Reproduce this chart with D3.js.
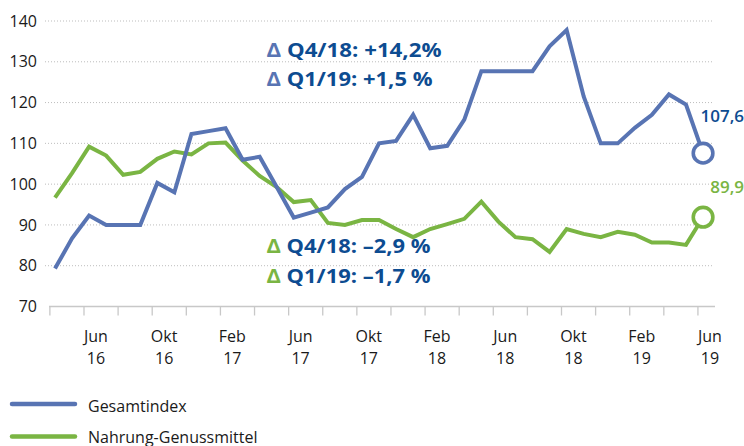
<!DOCTYPE html>
<html><head><meta charset="utf-8">
<script src="https://cdn.jsdelivr.net/npm/d3@7"></script>
<style>
html,body{margin:0;padding:0;background:#fff;}
svg{display:block;}
</style></head>
<body>
<svg id="chart" width="744" height="446"></svg>
<script>
// months Apr 2016 .. Jun 2019
const months = ["Apr 16","Mai 16","Jun 16","Jul 16","Aug 16","Sep 16","Okt 16","Nov 16","Dez 16",
"Jan 17","Feb 17","Mär 17","Apr 17","Mai 17","Jun 17","Jul 17","Aug 17","Sep 17","Okt 17","Nov 17","Dez 17",
"Jan 18","Feb 18","Mär 18","Apr 18","Mai 18","Jun 18","Jul 18","Aug 18","Sep 18","Okt 18","Nov 18","Dez 18",
"Jan 19","Feb 19","Mär 19","Apr 19","Mai 19","Jun 19"];
const gesamtindex = [79.3,86.7,92.3,90,90,90,100.3,98,112.3,113,113.7,106,106.7,99.3,91.8,93,94.3,98.8,101.8,110,110.6,117,108.8,109.4,115.8,127.7,127.7,127.7,127.7,133.8,137.8,121.5,110,110,113.8,117,122,119.5,107.6];
const nahrung = [96.7,102.7,109.2,107,102.3,103,106.2,108,107.3,110,110.2,105.8,102,99.3,95.6,96.1,90.5,90,91.2,91.2,89,87,89,90.2,91.5,95.7,90.8,87,86.5,83.4,89,87.8,87,88.3,87.6,85.7,85.7,85.1,91.9];
const yTicks = [70,80,90,100,110,120,130,140];
const xLabelMonths = ["Jun","Okt","Feb","Jun","Okt","Feb","Jun","Okt","Feb","Jun"];
const xLabelYears = ["16","16","17","17","17","18","18","18","19","19"];
const xLabelIndex = [2,6,10,14,18,22,26,30,34,38];
const endLabels = ["107,6","89,9"];
const seriesNames = ["Gesamtindex","Nahrung-Genussmittel"];
const notesBlue = ["Q4/18: +14,2%","Q1/19: +1,5 %"];
const notesGreen = ["Q4/18: –2,9 %","Q1/19: –1,7 %"];

const BLUE = "#5874b3", GREEN = "#7ab543", DARK = "#0d4c91";
const FONT = "Open Sans, Noto Sans, sans-serif";
const svg = d3.select("#chart");
const x = d3.scaleLinear().domain([0, 37]).range([55, 686]);
const y = d3.scaleLinear().domain([70, 140]).range([306.5, 21]);

// grid
svg.append("g").selectAll("line").data(yTicks.filter(d => d > 70)).join("line")
  .attr("x1", 45).attr("x2", 712).attr("y1", d => y(d)).attr("y2", d => y(d))
  .attr("stroke", "#bdbdbd").attr("stroke-width", 1).attr("stroke-dasharray", "1,2");

// y labels
svg.append("g").selectAll("text").data(yTicks).join("text")
  .attr("x", 37).attr("y", d => y(d)).attr("dy", "0.35em").attr("text-anchor", "end")
  .attr("font-family", FONT).attr("font-size", 16).attr("fill", "#1a1a1a")
  .text(d => d);

// x axis
const tickIdx = d3.range(20).map(k => -0.3 + 2 * k);
const xa = svg.append("g");
xa.append("line").attr("x1", 49).attr("x2", 715).attr("y1", y(70)).attr("y2", y(70))
  .attr("stroke", "#c8c8c8").attr("stroke-width", 1.3);
xa.selectAll("line.t").data(tickIdx).join("line").attr("class", "t")
  .attr("x1", d => x(d)).attr("x2", d => x(d)).attr("y1", y(70)).attr("y2", y(70) + 9)
  .attr("stroke", "#c8c8c8").attr("stroke-width", 1.3);
const xl = xa.selectAll("g.l").data(xLabelIndex).join("g").attr("class", "l")
  .attr("transform", d => `translate(${x(d + 0.4)},0)`);
xl.append("text").attr("y", 341.7).attr("text-anchor", "middle")
  .attr("font-family", FONT).attr("font-size", 16)
  .attr("fill", "#1a1a1a").text((d, i) => xLabelMonths[i]);
xl.append("text").attr("y", 364).attr("text-anchor", "middle")
  .attr("font-family", FONT).attr("font-size", 16)
  .attr("fill", "#1a1a1a").text((d, i) => xLabelYears[i]);

// lines
const line = d3.line().x((d, i) => x(i)).y(d => y(d));
svg.append("path").datum(nahrung).attr("d", line).attr("fill", "none")
  .attr("stroke", GREEN).attr("stroke-width", 4).attr("stroke-linejoin", "miter");
svg.append("path").datum(gesamtindex).attr("d", line).attr("fill", "none")
  .attr("stroke", BLUE).attr("stroke-width", 4).attr("stroke-linejoin", "miter");

// end markers
const last = gesamtindex.length - 1;
[[gesamtindex, BLUE], [nahrung, GREEN]].forEach(([s, c]) => {
  svg.append("circle").attr("cx", x(last)).attr("cy", y(s[last])).attr("r", 9.8)
    .attr("fill", "#fff").attr("stroke", c).attr("stroke-width", 3.6);
});
svg.append("text").attr("x", 744).attr("y", 122).attr("text-anchor", "end")
  .attr("font-family", FONT).attr("font-weight", 600).attr("font-size", 17)
  .attr("fill", DARK).text(endLabels[0]);
svg.append("text").attr("x", 744).attr("y", 193).attr("text-anchor", "end")
  .attr("font-family", FONT).attr("font-weight", 600).attr("font-size", 17)
  .attr("fill", GREEN).text(endLabels[1]);

// annotations
function note(txt, yy, dc, w) {
  const t = svg.append("text").attr("x", 266.5).attr("y", yy)
    .attr("font-family", FONT).attr("font-weight", 700).attr("font-size", 20)
    .attr("fill", DARK).attr("textLength", w).attr("lengthAdjust", "spacingAndGlyphs");
  t.append("tspan").attr("fill", dc).text("Δ ");
  t.append("tspan").text(txt);
}
note(notesBlue[0], 57.3, BLUE, 175);
note(notesBlue[1], 86, BLUE, 166);
note(notesGreen[0], 253.3, GREEN, 164);
note(notesGreen[1], 282.7, GREEN, 164);

// legend
const lg = svg.append("g");
[[BLUE, 404, 412], [GREEN, 436.5, 442.5]].forEach(([c, ly, ty], i) => {
  lg.append("line").attr("x1", 12).attr("x2", 75).attr("y1", ly).attr("y2", ly)
    .attr("stroke", c).attr("stroke-width", 4.5).attr("stroke-linecap", "round");
  lg.append("text").attr("x", 88).attr("y", ty)
    .attr("font-family", FONT).attr("font-size", 16)
    .attr("fill", "#1a1a1a").text(seriesNames[i]);
});
</script>
</body></html>
